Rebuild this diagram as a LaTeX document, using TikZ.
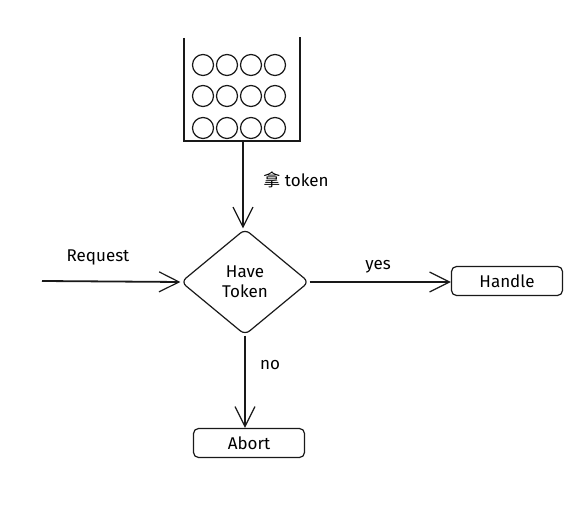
\documentclass[tikz,border=0pt]{standalone}
\usepackage{fontspec}
\setmainfont{Fira Sans}
\newfontfamily\cjk{Noto Sans CJK SC}
\usetikzlibrary{shapes.geometric,arrows.meta}
\begin{document}
\begin{tikzpicture}[x=1pt,y=-1pt,
  every node/.style={font=\fontsize{17}{20}\selectfont},
  line/.style={draw=black!90,line width=1.2pt},
  arr/.style={line,-{Straight Barb[length=20pt,width=20pt,line width=1.2pt]}},
  procbox/.style={draw=black!90,line width=1.2pt,rounded corners=5pt,minimum width=111pt,minimum height=29pt,inner sep=0pt},
  decision/.style={diamond,draw=black!90,line width=1.2pt,rounded corners=6pt,minimum width=128pt,minimum height=106pt,inner sep=0pt,align=center},
  lbl/.style={inner sep=1pt}
]
\useasboundingbox (0,0) rectangle (579,510);
% bucket
\draw[line] (184,38) -- (184,141) -- (300,141) -- (300,37);
\foreach \cx in {203,227,251,275}{
  \foreach \cy in {65,96,128}{
    \draw[line] (\cx,\cy) circle[radius=10.5];
  }
}
\coordinate (bucketout) at (243,141);
\coordinate (reqstart) at (42,281);
\node[decision] (have) at (245,282) {Have\\Token};
\node[procbox] (handle) at (507,281) {Handle};
\node[procbox] (abort) at (249,443) {Abort};
\draw[arr] (bucketout) -- (have.north -| bucketout);
\draw[arr,line width=1.8pt] (reqstart) -- (have.west);
\draw[arr] (have.east) -- (handle.west |- have.east);
\draw[arr] (have.south) -- (have.south |- abort.north);
\node[lbl] (ltoken) at (296,180) {{\cjk 拿} token};
\node[lbl] (lreq) at (98,257) {Request};
\node[lbl] (lyes) at (378,267) {yes};
\node[lbl] (lno) at (270,365) {no};
\end{tikzpicture}
\end{document}
